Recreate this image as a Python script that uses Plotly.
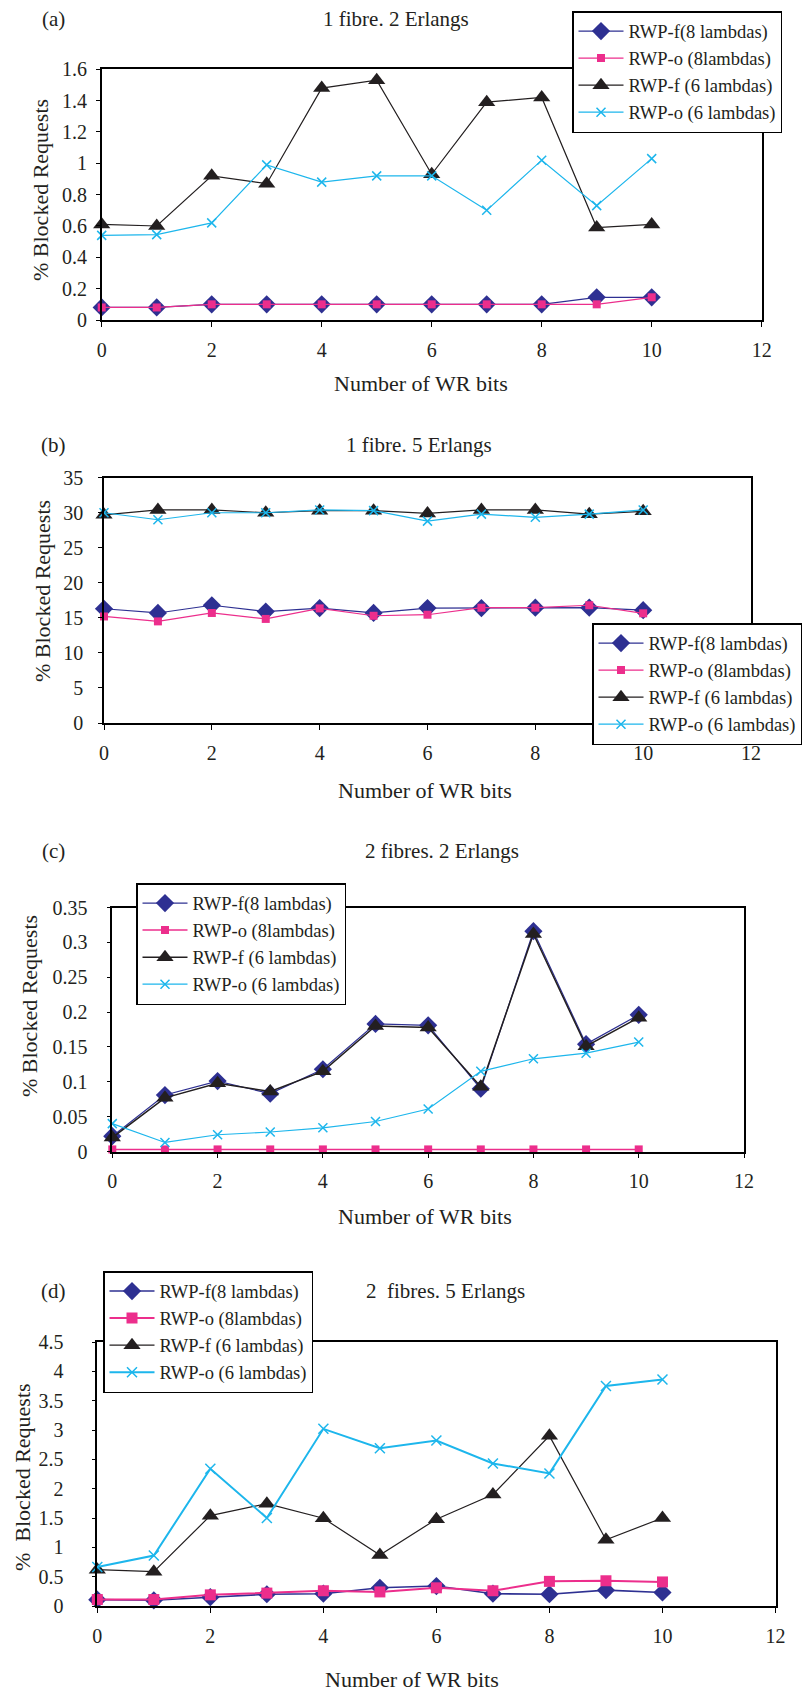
import plotly.graph_objects as go

# ---------------- data ----------------
x_bits = [0, 1, 2, 3, 4, 5, 6, 7, 8, 9, 10]
xtick_vals = [0, 2, 4, 6, 8, 10, 12]
xtick_text = ["0", "2", "4", "6", "8", "10", "12"]

series_names = ["RWP-f(8 lambdas)", "RWP-o (8lambdas)", "RWP-f (6 lambdas)", "RWP-o (6 lambdas)"]

# (a) 1 fibre, 2 Erlangs
a_f8 = [0.08, 0.08, 0.10, 0.10, 0.10, 0.10, 0.10, 0.10, 0.10, 0.145, 0.145]
a_o8 = [0.08, 0.08, 0.10, 0.10, 0.10, 0.10, 0.10, 0.10, 0.10, 0.10, 0.145]
a_f6 = [0.61, 0.60, 0.92, 0.87, 1.48, 1.53, 0.93, 1.39, 1.42, 0.59, 0.61]
a_o6 = [0.54, 0.545, 0.62, 0.99, 0.88, 0.92, 0.92, 0.70, 1.02, 0.73, 1.03]
a_yticks = [0, 0.2, 0.4, 0.6, 0.8, 1.0, 1.2, 1.4, 1.6]
a_yticktext = ["0", "0.2", "0.4", "0.6", "0.8", "1", "1.2", "1.4", "1.6"]

# (b) 1 fibre, 5 Erlangs
b_f8 = [16.3, 15.7, 16.8, 15.9, 16.4, 15.7, 16.4, 16.4, 16.45, 16.45, 16.1]
b_o8 = [15.2, 14.5, 15.7, 14.85, 16.35, 15.3, 15.45, 16.45, 16.45, 16.8, 15.65]
b_f6 = [29.7, 30.4, 30.4, 30.0, 30.3, 30.3, 29.9, 30.4, 30.4, 29.8, 30.2]
b_o6 = [30.0, 29.0, 30.0, 30.0, 30.4, 30.3, 28.8, 29.8, 29.35, 29.8, 30.4]
b_yticks = [0, 5, 10, 15, 20, 25, 30, 35]
b_yticktext = ["0", "5", "10", "15", "20", "25", "30", "35"]

# (c) 2 fibres, 2 Erlangs
c_f8 = [0.022, 0.081, 0.101, 0.083, 0.118, 0.183, 0.181, 0.090, 0.316, 0.154, 0.196]
c_o8 = [0.003, 0.003, 0.003, 0.003, 0.003, 0.003, 0.003, 0.003, 0.003, 0.003, 0.003]
c_f6 = [0.020, 0.077, 0.098, 0.086, 0.115, 0.180, 0.178, 0.093, 0.312, 0.151, 0.192]
c_o6 = [0.040, 0.013, 0.024, 0.028, 0.034, 0.043, 0.061, 0.115, 0.133, 0.141, 0.157]
c_yticks = [0, 0.05, 0.1, 0.15, 0.2, 0.25, 0.3, 0.35]
c_yticktext = ["0", "0.05", "0.1", "0.15", "0.2", "0.25", "0.3", "0.35"]

# (d) 2 fibres, 5 Erlangs
d_f8 = [0.108, 0.097, 0.15, 0.20, 0.21, 0.31, 0.34, 0.21, 0.20, 0.27, 0.23]
d_o8 = [0.11, 0.11, 0.19, 0.22, 0.26, 0.24, 0.31, 0.26, 0.42, 0.43, 0.41]
d_f6 = [0.62, 0.585, 1.54, 1.745, 1.495, 0.87, 1.48, 1.90, 2.90, 1.13, 1.50]
d_o6 = [0.665, 0.86, 2.34, 1.50, 3.02, 2.69, 2.82, 2.43, 2.26, 3.75, 3.86]
d_yticks = [0, 0.5, 1, 1.5, 2, 2.5, 3, 3.5, 4, 4.5]
d_yticktext = ["0", "0.5", "1", "1.5", "2", "2.5", "3", "3.5", "4", "4.5"]

# ---------------- styling ----------------
W, H = 806, 1693
FONT = "Liberation Serif, Times New Roman, serif"
TXT = "#231F20"
BLUE = "#2E3092"
PINK = "#EC2E8C"
BLACK = "#231F20"
CYAN = "#1DB6EC"


def px_x(v):
    return v / W


def px_y(v):
    return 1 - v / H


panels = [
    dict(key="a", data=[a_f8, a_o8, a_f6, a_o6], yr=[0, 1.6], tv=a_yticks, tt=a_yticktext,
         box=(101.7, 761.7, 69.3, 320.0), ygap=5, leg=(572, 11),
         title="1 fibre. 2 Erlangs", tpos=(396, 19), lpos=(54, 19),
         ytitle="% Blocked Requests", ytpos=(41, 190), xtpos=(421, 383),
         msz=[14, 8, 15, 9], lw=[1.2, 1.2, 1.2, 1.2]),
    dict(key="b", data=[b_f8, b_o8, b_f6, b_o6], yr=[0, 35], tv=b_yticks, tt=b_yticktext,
         box=(104.0, 751.0, 477.7, 723.0), ygap=11, leg=(592, 623),
         title="1 fibre. 5 Erlangs", tpos=(419, 445), lpos=(54, 445),
         ytitle="% Blocked Requests", ytpos=(42, 591), xtpos=(425, 790),
         msz=[14, 8, 15, 9], lw=[1.2, 1.2, 1.2, 1.2]),
    dict(key="c", data=[c_f8, c_o8, c_f6, c_o6], yr=[0, 0.35], tv=c_yticks, tt=c_yticktext,
         box=(112.3, 744.0, 907.5, 1151.5), ygap=15, leg=(136, 883),
         title="2 fibres. 2 Erlangs", tpos=(442, 851), lpos=(54, 851),
         ytitle="% Blocked Requests", ytpos=(29, 1006), xtpos=(425, 1216),
         msz=[14, 8, 15, 9], lw=[1.2, 1.5, 1.5, 1.2]),
    dict(key="d", data=[d_f8, d_o8, d_f6, d_o6], yr=[0, 4.5], tv=d_yticks, tt=d_yticktext,
         box=(97.3, 775.5, 1342.0, 1606.0), ygap=24, leg=(103, 1271),
         title="2\u00a0 fibres. 5 Erlangs", tpos=(445, 1291), lpos=(54, 1291),
         ytitle="%\u00a0 Blocked Requests", ytpos=(22, 1477), xtpos=(412, 1679),
         msz=[14, 11, 15, 10], lw=[1.6, 2.0, 1.2, 2.0]),
]

fig = go.Figure()
annotations = []
layout_axes = {}

symbols = ["diamond", "square", "triangle-up", "x-thin"]
colors = [BLUE, PINK, BLACK, CYAN]

for i, p in enumerate(panels):
    n = i + 1
    xa = "x" if n == 1 else f"x{n}"
    ya = "y" if n == 1 else f"y{n}"
    leg = "legend" if n == 1 else f"legend{n}"
    for j in range(4):
        marker = dict(symbol=symbols[j], size=p["msz"][j], color=colors[j],
                      line=dict(width=0, color=colors[j]))
        if symbols[j] == "x-thin":
            marker["line"] = dict(width=1.5, color=colors[j])
        fig.add_trace(go.Scatter(
            x=x_bits, y=p["data"][j], mode="lines+markers", name=series_names[j],
            line=dict(color=colors[j], width=p["lw"][j]), marker=marker,
            xaxis=xa, yaxis=ya, legend=leg, legendgroup=f"{p['key']}{j}",
            cliponaxis=False, showlegend=True,
        ))
    l, r, t, b = p["box"]
    axcommon = dict(showline=True, linecolor="black", linewidth=1.5, mirror=True,
                    ticks="outside", ticklen=5, tickwidth=1.2, tickcolor="black",
                    showgrid=False, zeroline=False,
                    tickfont=dict(family=FONT, size=20, color=TXT))
    layout_axes["xaxis" if n == 1 else f"xaxis{n}"] = dict(
        axcommon, domain=[px_x(l), px_x(r)], range=[0, 12], tickvals=xtick_vals,
        ticktext=xtick_text, anchor=ya, ticklabelstandoff=6)
    layout_axes["yaxis" if n == 1 else f"yaxis{n}"] = dict(
        axcommon, domain=[px_y(b), px_y(t)], range=p["yr"], tickvals=p["tv"],
        ticktext=p["tt"], anchor=xa, ticklen=4, ticklabelstandoff=p["ygap"])
    lx, ly = p["leg"]
    layout_axes[leg] = dict(x=px_x(lx), y=px_y(ly), xanchor="left", yanchor="top",
                            bgcolor="white", bordercolor="black", borderwidth=1.5,
                            font=dict(family=FONT, size=18.5, color=TXT),
                            tracegroupgap=0, traceorder="grouped", itemwidth=45)
    annotations.append(dict(text=p["title"], x=px_x(p["tpos"][0]), y=px_y(p["tpos"][1]),
                            xref="paper", yref="paper", showarrow=False,
                            xanchor="center", yanchor="middle",
                            font=dict(family=FONT, size=21, color=TXT)))
    annotations.append(dict(text=f"({p['key']})", x=px_x(p["lpos"][0]), y=px_y(p["lpos"][1]),
                            xref="paper", yref="paper", showarrow=False,
                            xanchor="center", yanchor="middle",
                            font=dict(family=FONT, size=21, color=TXT)))
    annotations.append(dict(text=p["ytitle"], x=px_x(p["ytpos"][0]), y=px_y(p["ytpos"][1]),
                            xref="paper", yref="paper", showarrow=False, textangle=-90,
                            xanchor="center", yanchor="middle",
                            font=dict(family=FONT, size=22, color=TXT)))
    annotations.append(dict(text="Number of WR bits", x=px_x(p["xtpos"][0]), y=px_y(p["xtpos"][1]),
                            xref="paper", yref="paper", showarrow=False,
                            xanchor="center", yanchor="middle",
                            font=dict(family=FONT, size=22, color=TXT)))

fig.update_layout(
    width=W, height=H,
    margin=dict(l=0, r=0, t=0, b=0, autoexpand=False),
    paper_bgcolor="white", plot_bgcolor="white",
    annotations=annotations,
    **layout_axes,
)

fig.write_html("out.html", config={"displayModeBar": False},
               post_script="document.body.style.margin='0px';document.body.style.overflow='hidden';")
